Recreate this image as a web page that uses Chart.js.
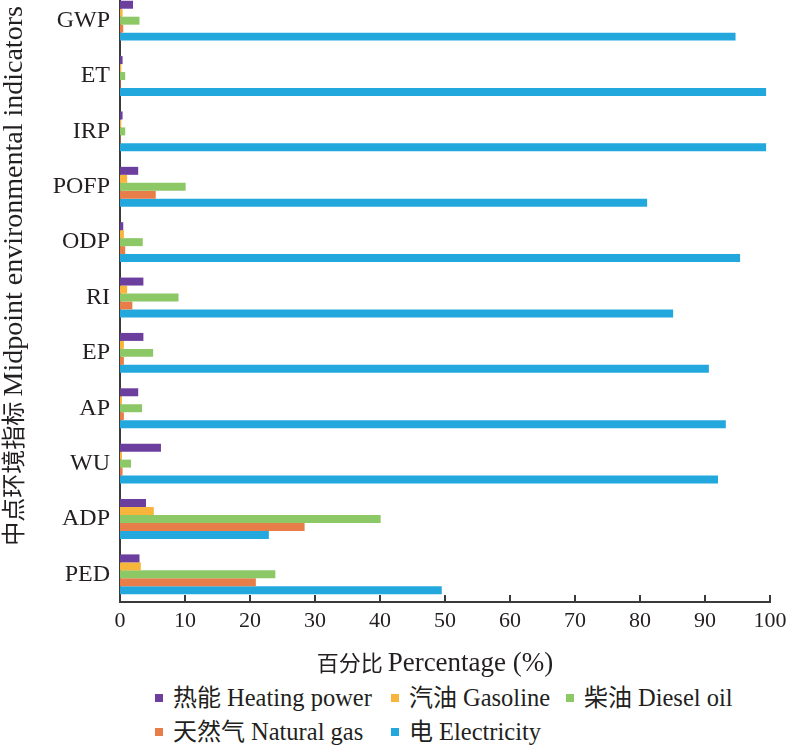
<!DOCTYPE html>
<html>
<head>
<meta charset="utf-8">
<script src="https://cdn.jsdelivr.net/npm/chart.js@4.4.1/dist/chart.umd.min.js"></script>
<style>
    html, body {
        margin: 0;
        padding: 0;
        background: #ffffff;
    }

    #wrap {
        position: relative;
        width: 800px;
        height: 747px;
        overflow: hidden;
    }

    #chartBox {
        position: absolute;
        left: 0;
        top: -7px;
        width: 800px;
        height: 686px;
    }

    #legend {
        position: absolute;
        left: 0;
        top: 680px;
        width: 800px;
        height: 67px;
        font-family: "Liberation Serif", "Noto Sans CJK SC", serif;
        font-size: 24px;
        color: #231f20;
    }

    .item {
        position: absolute;
        white-space: nowrap;
        line-height: 28px;
    }

    .item .en {
        font-size: 24.5px;
    }

    .swatch {
        display: inline-block;
        width: 8px;
        height: 8px;
        margin-right: 10px;
        vertical-align: 4px;
    }
</style>
</head>
<body>
<div id="wrap">
    <div id="chartBox"><canvas id="chart"></canvas></div>
    <div id="legend"></div>
</div>
<script>
const categories = ["GWP", "ET", "IRP", "POFP", "ODP", "RI", "EP", "AP", "WU", "ADP", "PED"];

const heatingPower = [2.0, 0.4, 0.4, 2.8, 0.5, 3.6, 3.6, 2.8, 6.3, 4.0, 3.0];
const gasoline = [0.4, 0.2, 0.2, 1.1, 0.6, 1.1, 0.6, 0.3, 0.3, 5.2, 3.2];
const dieselOil = [3.0, 0.8, 0.8, 10.1, 3.5, 9.0, 5.1, 3.4, 1.7, 40.1, 23.9];
const naturalGas = [0.5, 0.1, 0.1, 5.5, 0.8, 1.9, 0.6, 0.6, 0.4, 28.4, 20.9];
const electricity = [94.7, 99.4, 99.4, 81.1, 95.4, 85.1, 90.6, 93.2, 92.0, 22.9, 49.5];

const seriesCn = ["热能", "汽油", "柴油", "天然气", "电"];
const seriesEn = ["Heating power", "Gasoline", "Diesel oil", "Natural gas", "Electricity"];
const seriesColors = ["#6c3f9e", "#f7b53c", "#8cc866", "#e77e4a", "#23a8de"];

const xTicks = [0, 10, 20, 30, 40, 50, 60, 70, 80, 90, 100];

const xTitle = ["百分比 ", "Percentage (%)"];
const yTitle = ["中点环境指标 ", "Midpoint environmental indicators"];

const serif = "\"Liberation Serif\", serif";
const cjk = "\"Noto Sans CJK SC\", sans-serif";
const axisColor = "#3a3a3a";
const textColor = "#231f20";

// chinese part and english part use different sizes, as in the reference
const drawMixed = (ctx, parts, fonts, cx, baseline) => {
    const widths = parts.map((t, i) => {
        ctx.font = fonts[i];
        return ctx.measureText(t).width;
    });
    let x = cx - widths.reduce((a, b) => a + b, 0) / 2;
    ctx.textAlign = "left";
    ctx.textBaseline = "alphabetic";
    parts.forEach((t, i) => {
        ctx.font = fonts[i];
        ctx.fillText(t, x, baseline);
        x += widths[i];
    });
};

// inward tick marks on the x axis
const innerTicks = {
    id: "innerTicks",
    afterDraw(chart) {
        const { ctx, scales } = chart;
        const x = scales.x;
        ctx.save();
        ctx.strokeStyle = axisColor;
        ctx.lineWidth = 2;
        xTicks.forEach((v) => {
            const px = Math.round(x.getPixelForValue(v));
            ctx.beginPath();
            ctx.moveTo(px, x.top);
            ctx.lineTo(px, x.top - 7);
            ctx.stroke();
        });
        ctx.restore();
    }
};

const axisTitles = {
    id: "axisTitles",
    afterDraw(chart) {
        const { ctx } = chart;
        ctx.save();
        ctx.fillStyle = textColor;
        drawMixed(ctx, xTitle, [`22px ${cjk}`, `27px ${serif}`], 435, 678);
        ctx.translate(22, 283);
        ctx.rotate(-Math.PI / 2);
        drawMixed(ctx, yTitle, [`24px ${cjk}`, `28px ${serif}`], 0, 0);
        ctx.restore();
    }
};

const values = [heatingPower, gasoline, dieselOil, naturalGas, electricity];

new Chart(document.getElementById("chart"), {
    type: "bar",
    data: {
        labels: categories,
        datasets: values.map((data, i) => ({
            label: seriesCn[i] + " " + seriesEn[i],
            data: data,
            backgroundColor: seriesColors[i],
            borderWidth: 0,
            barPercentage: 1,
            categoryPercentage: 0.72
        }))
    },
    options: {
        indexAxis: "y",
        responsive: true,
        maintainAspectRatio: false,
        animation: false,
        layout: {
            padding: { top: 0, right: 30, bottom: 0, left: 0 }
        },
        plugins: {
            legend: { display: false },
            tooltip: { enabled: false }
        },
        scales: {
            x: {
                min: 0,
                max: 100,
                afterBuildTicks: (scale) => {
                    scale.ticks = xTicks.map((v) => ({ value: v }));
                },
                afterFit: (scale) => {
                    scale.height = 77;
                },
                border: {
                    display: true,
                    color: axisColor,
                    width: 2
                },
                grid: {
                    display: false,
                    drawTicks: false
                },
                ticks: {
                    color: textColor,
                    padding: 6,
                    maxRotation: 0,
                    font: { family: serif, size: 22 }
                }
            },
            y: {
                afterFit: (scale) => {
                    scale.width = 120;
                    scale.paddingTop = 0;
                    scale.paddingBottom = 0;
                },
                border: {
                    display: true,
                    color: axisColor,
                    width: 2
                },
                grid: {
                    display: false,
                    drawTicks: false
                },
                ticks: {
                    color: textColor,
                    padding: 10,
                    font: { family: serif, size: 24 }
                }
            }
        }
    },
    plugins: [innerTicks, axisTitles]
});

// legend laid out in the same grid as the reference
const legendSpots = [[155, 0], [391, 0], [566, 0], [155, 34], [391, 34]];
const legend = document.getElementById("legend");
seriesCn.forEach((name, i) => {
    const item = document.createElement("div");
    item.className = "item";
    item.style.left = legendSpots[i][0] + "px";
    item.style.top = (legendSpots[i][1] + 4) + "px";
    item.innerHTML = `<span class="swatch" style="background:${seriesColors[i]}"></span>${name} <span class="en">${seriesEn[i]}</span>`;
    legend.appendChild(item);
});
</script>
</body>
</html>
